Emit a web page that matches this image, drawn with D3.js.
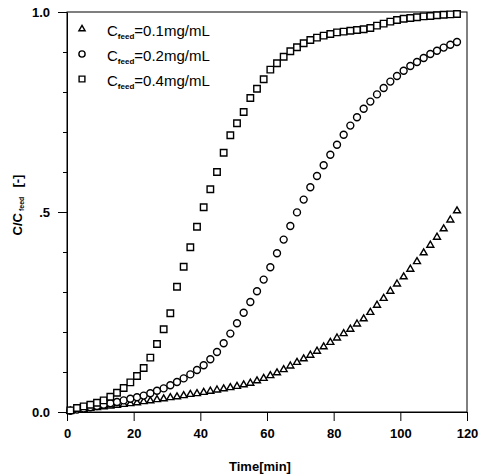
<!DOCTYPE html>
<html>
<head>
<meta charset="utf-8">
<script src="https://cdn.jsdelivr.net/npm/d3@7"></script>
<style>
  body { margin: 0; background: #fff; }
  text { font-family: "Liberation Sans", Arial, sans-serif; fill: #000; }
</style>
</head>
<body>
<svg id="chart"></svg>
<script>
// sampling times [min]
let time = [1, 3, 5, 7, 9, 11, 13, 15, 17, 19, 21, 23, 25, 27, 29, 31, 33, 35, 37, 39,
  41, 43, 45, 47, 49, 51, 53, 55, 57, 59, 61, 63, 65, 67, 69, 71, 73, 75, 77, 79,
  81, 83, 85, 87, 89, 91, 93, 95, 97, 99, 101, 103, 105, 107, 109, 111, 113, 115, 117];

// C/Cfeed, Cfeed = 0.1 mg/mL
let feed01 = [0.002, 0.005, 0.007, 0.009, 0.011, 0.013, 0.015, 0.017, 0.019, 0.021,
  0.023, 0.026, 0.028, 0.031, 0.033, 0.036, 0.038, 0.041, 0.044, 0.046,
  0.049, 0.052, 0.055, 0.058, 0.061, 0.064, 0.068, 0.072, 0.078, 0.084,
  0.091, 0.098, 0.106, 0.115, 0.124, 0.133, 0.142, 0.152, 0.163, 0.174,
  0.185, 0.196, 0.207, 0.220, 0.233, 0.249, 0.267, 0.284, 0.302, 0.320,
  0.338, 0.357, 0.376, 0.398, 0.417, 0.437, 0.458, 0.480, 0.503];

// C/Cfeed, Cfeed = 0.2 mg/mL
let feed02 = [0.003, 0.006, 0.009, 0.012, 0.015, 0.018, 0.022, 0.025, 0.029, 0.033,
  0.037, 0.041, 0.047, 0.053, 0.059, 0.067, 0.075, 0.084, 0.094, 0.105,
  0.117, 0.132, 0.150, 0.172, 0.196, 0.222, 0.248, 0.275, 0.302, 0.331,
  0.362, 0.397, 0.431, 0.465, 0.499, 0.531, 0.562, 0.590, 0.617, 0.643,
  0.668, 0.693, 0.716, 0.737, 0.758, 0.776, 0.794, 0.810, 0.826, 0.840,
  0.853, 0.865, 0.875, 0.885, 0.895, 0.903, 0.911, 0.918, 0.925];

// C/Cfeed, Cfeed = 0.4 mg/mL
let feed04 = [0.004, 0.010, 0.014, 0.018, 0.023, 0.029, 0.038, 0.048, 0.060, 0.074,
  0.090, 0.110, 0.136, 0.170, 0.207, 0.247, 0.313, 0.363, 0.412, 0.463,
  0.512, 0.557, 0.600, 0.648, 0.692, 0.722, 0.750, 0.785, 0.808, 0.832,
  0.856, 0.872, 0.888, 0.902, 0.912, 0.922, 0.930, 0.936, 0.941, 0.945,
  0.949, 0.951, 0.953, 0.955, 0.957, 0.960, 0.966, 0.971, 0.976, 0.980,
  0.983, 0.985, 0.987, 0.989, 0.990, 0.992, 0.993, 0.994, 0.995];

let legendLabels = ["=0.1mg/mL", "=0.2mg/mL", "=0.4mg/mL"];
let xTicks = [0, 20, 40, 60, 80, 100, 120];
let yTicks = [0, 0.5, 1];
let yTickLabels = ["0.0", ".5", "1.0"];
let yMinor = [0.1, 0.2, 0.3, 0.4, 0.6, 0.7, 0.8, 0.9];

let width = 481, height = 476;
let margin = {top: 12, right: 14, bottom: 64, left: 67};
let w = width - margin.left - margin.right;
let h = height - margin.top - margin.bottom;

let svg = d3.select("#chart").attr("width", width).attr("height", height);
let g = svg.append("g").attr("transform", `translate(${margin.left},${margin.top})`);

let x = d3.scaleLinear().domain([0, 120]).range([0, w]);
let y = d3.scaleLinear().domain([0, 1]).range([h, 0]);

// frame
g.append("rect").attr("width", w).attr("height", h)
  .attr("fill", "none").attr("stroke", "#000").attr("stroke-width", 1);

let xAxis = g.append("g").attr("transform", `translate(0,${h})`)
  .call(d3.axisBottom(x).tickValues(xTicks).tickSize(9).tickPadding(8).tickSizeOuter(0));
let yAxis = g.append("g")
  .call(d3.axisLeft(y).tickValues(yTicks).tickSize(9).tickPadding(8).tickSizeOuter(0)
    .tickFormat((d, i) => yTickLabels[i]));
g.append("g")
  .call(d3.axisLeft(y).tickValues(yMinor).tickSize(4).tickSizeOuter(0).tickFormat(""))
  .select(".domain").remove();

[xAxis, yAxis].forEach(a => {
  a.selectAll("text").attr("font-size", 13).attr("font-weight", "bold")
    .attr("font-family", "Liberation Sans, Arial, sans-serif");
  a.select(".domain").attr("stroke", "#000");
});

// axis titles
svg.append("text").attr("x", 260).attr("y", 471)
  .attr("text-anchor", "middle").attr("font-size", 13).attr("font-weight", "bold")
  .text("Time[min]");

let yt = svg.append("text").attr("transform", "translate(22,205) rotate(-90)")
  .attr("text-anchor", "middle").attr("font-size", 13).attr("font-weight", "bold");
yt.append("tspan").text("C/C");
yt.append("tspan").attr("font-size", 7).attr("dy", 2).attr("dx", 2).text("feed");
yt.append("tspan").attr("dy", -2).attr("dx", 9).text("[-]");

// markers
let series = [
  {values: feed01, shape: d3.symbolTriangle, size: 21},
  {values: feed02, shape: d3.symbolCircle, size: 38},
  {values: feed04, shape: d3.symbolSquare, size: 42}
];

series.forEach(s => {
  g.append("g").selectAll("path")
    .data(s.values)
    .join("path")
    .attr("transform", (d, i) => `translate(${x(time[i])},${y(d)})`)
    .attr("d", d3.symbol().type(s.shape).size(s.size))
    .attr("fill", "#fff").attr("stroke", "#000").attr("stroke-width", 1.4);
});

// legend
let legend = svg.append("g");
series.forEach((s, i) => {
  let ly = 31 + i * 25;
  legend.append("path")
    .attr("transform", `translate(82,${ly - 2})`)
    .attr("d", d3.symbol().type(s.shape).size(s.size * 0.8))
    .attr("fill", "#fff").attr("stroke", "#000").attr("stroke-width", 1.4);
  let t = legend.append("text").attr("x", 107).attr("y", ly + 5).attr("font-size", 15);
  t.append("tspan").text("C");
  t.append("tspan").attr("font-size", 8).attr("font-weight", "bold").attr("dy", 3).text("feed");
  t.append("tspan").attr("dy", -3).text(legendLabels[i]);
});
</script>
</body>
</html>
